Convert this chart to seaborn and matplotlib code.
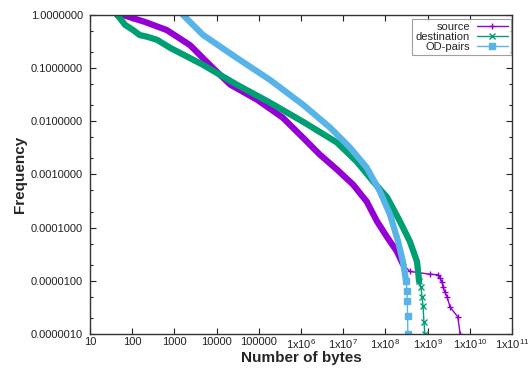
import matplotlib
matplotlib.use('Agg')
import matplotlib.pyplot as plt
import matplotlib.ticker as mticker
from matplotlib.lines import Line2D
import seaborn as sns
import pandas as pd

# Series values (bytes, frequency)
# source: dense body + sparse tail
src_x = [44, 60, 200, 660, 1350, 2350, 6900, 21000, 91000, 3.7e5, 1.12e6, 2.8e6, 7.1e6,
         1.7e7, 3.6e7, 6.3e7, 1.1e8, 1.86e8, 2.6e8]
src_y = [1.0, 1.0, 0.74, 0.52, 0.36, 0.27, 0.115, 0.049, 0.0255, 0.0117, 0.0049, 0.00236,
         0.00124, 6.5e-4, 3.1e-4, 1.32e-4, 6.6e-5, 3.6e-5, 2.05e-5]
src_tail_x = [2.6e8, 3.8e8, 1.15e9, 1.8e9, 1.95e9, 2.2e9, 2.3e9, 2.55e9, 2.9e9,
              3.4e9, 5.2e9, 5.9e9]
src_tail_y = [2.05e-5, 1.5e-5, 1.33e-5, 1.3e-5, 1.15e-5, 9.5e-6, 7.8e-6, 6.2e-6,
              5.0e-6, 3.2e-6, 2.1e-6, 1.0e-6]

# destination
dst_x = [44, 51, 68, 105, 150, 225, 390, 800, 4800, 30000, 1.85e5, 1.12e6, 7.1e6,
         2.1e7, 5.1e7, 1.1e8, 2.2e8, 3.8e8, 5.6e8, 6.3e8]
dst_y = [1.0, 0.87, 0.65, 0.52, 0.42, 0.39, 0.34, 0.24, 0.115, 0.049, 0.0224, 0.0098,
         0.0040, 0.00174, 7.4e-4, 3.7e-4, 1.32e-4, 5.5e-5, 2.3e-5, 9.8e-6]
dst_tail_x = [6.3e8, 6.9e8, 7.4e8, 7.8e8, 8.2e8, 8.6e8]
dst_tail_y = [9.8e-6, 7.8e-6, 5.0e-6, 3.3e-6, 1.66e-6, 1.0e-6]

# OD-pairs
od_x = [1600, 4800, 30000, 1.85e5, 1.12e6, 4.9e6, 1.45e7, 3.6e7, 7.4e7, 1.28e8,
        2.0e8, 2.6e8, 3.1e8]
od_y = [1.0, 0.42, 0.156, 0.060, 0.0205, 0.0076, 0.0032, 0.00135, 4.8e-4, 1.78e-4,
        5.5e-5, 2.3e-5, 9.8e-6]
od_tail_x = [3.1e8, 3.25e8, 3.3e8, 3.35e8, 3.4e8]
od_tail_y = [9.8e-6, 6.4e-6, 4.2e-6, 2.2e-6, 1.0e-6]

labels = ['source', 'destination', 'OD-pairs']
colors = ['#9400d3', '#009e73', '#56b4e9']
markers = ['+', 'x', 's']

x_ticks = [1e1, 1e2, 1e3, 1e4, 1e5, 1e6, 1e7, 1e8, 1e9, 1e10, 1e11]
x_ticklabels = ['10', '100', '1000', '10000', '100000', r'1x10$^{6}$', r'1x10$^{7}$',
                r'1x10$^{8}$', r'1x10$^{9}$', r'1x10$^{10}$', r'1x10$^{11}$']
y_ticks = [1e-6, 1e-5, 1e-4, 1e-3, 1e-2, 1e-1, 1]
y_ticklabels = ['0.0000010', '0.0000100', '0.0001000', '0.0010000', '0.0100000',
                '0.1000000', '1.0000000']

sns.set_style('ticks')
plt.rcParams['font.family'] = ['Liberation Sans', 'DejaVu Sans']
plt.rcParams['mathtext.fontset'] = 'custom'
plt.rcParams['mathtext.rm'] = 'Liberation Sans'
plt.rcParams['mathtext.it'] = 'Liberation Sans'

fig = plt.figure(figsize=(5.28, 3.69), dpi=100)
ax = fig.add_axes([0.1705, 0.0949, 0.7992, 0.8645])

series = [(src_x, src_y, src_tail_x, src_tail_y),
          (dst_x, dst_y, dst_tail_x, dst_tail_y),
          (od_x, od_y, od_tail_x, od_tail_y)]

for (bx, by, tx, ty), c, m in zip(series, colors, markers):
    body = pd.DataFrame({'x': bx, 'y': by})
    tail = pd.DataFrame({'x': tx, 'y': ty})
    sns.lineplot(data=body, x='x', y='y', ax=ax, color=c, lw=4.5, sort=False,
                 estimator=None, solid_joinstyle='round')
    sns.lineplot(data=tail, x='x', y='y', ax=ax, color=c, lw=1, sort=False,
                 estimator=None, marker=m, markersize=5 if m != 's' else 4,
                 markeredgewidth=1, markeredgecolor=c)

ax.set_xscale('log')
ax.set_yscale('log')
ax.set_xlim(10, 1e11)
ax.set_ylim(1e-6, 1)

ax.set_xticks(x_ticks)
ax.set_xticklabels(x_ticklabels)
ax.xaxis.set_minor_locator(mticker.NullLocator())
ax.set_yticks(y_ticks)
ax.set_yticklabels(y_ticklabels)
ax.yaxis.set_minor_locator(mticker.LogLocator(base=10, subs=(2, 5)))
ax.yaxis.set_minor_formatter(mticker.NullFormatter())

ax.tick_params(which='both', direction='in', top=True, right=True,
               labelsize=8, colors='#222222', width=0.8)
ax.tick_params(axis='x', pad=2)
ax.tick_params(axis='y', pad=5)
ax.tick_params(which='major', length=4)
ax.tick_params(which='minor', length=2)
for sp in ax.spines.values():
    sp.set_visible(True)
    sp.set_color('#333333')
    sp.set_linewidth(1)

ax.set_xlabel('Number of bytes', fontsize=11, fontweight='bold', labelpad=0)
ax.set_ylabel('Frequency', fontsize=11, fontweight='bold', labelpad=3)

handles = [Line2D([], [], color=c, lw=1, marker=m, markersize=4 if m == 's' else 5)
           for c, m in zip(colors, markers)]
leg = ax.legend(handles, labels, loc='upper right', bbox_to_anchor=(0.998, 0.988),
                borderaxespad=0, markerfirst=False, fontsize=8, frameon=True,
                fancybox=False, handlelength=2.8, labelspacing=0.0,
                borderpad=0.3, handletextpad=0.6)
leg.get_frame().set_edgecolor('#888888')
leg.get_frame().set_linewidth(0.8)

fig.savefig('out.png', dpi=100)
